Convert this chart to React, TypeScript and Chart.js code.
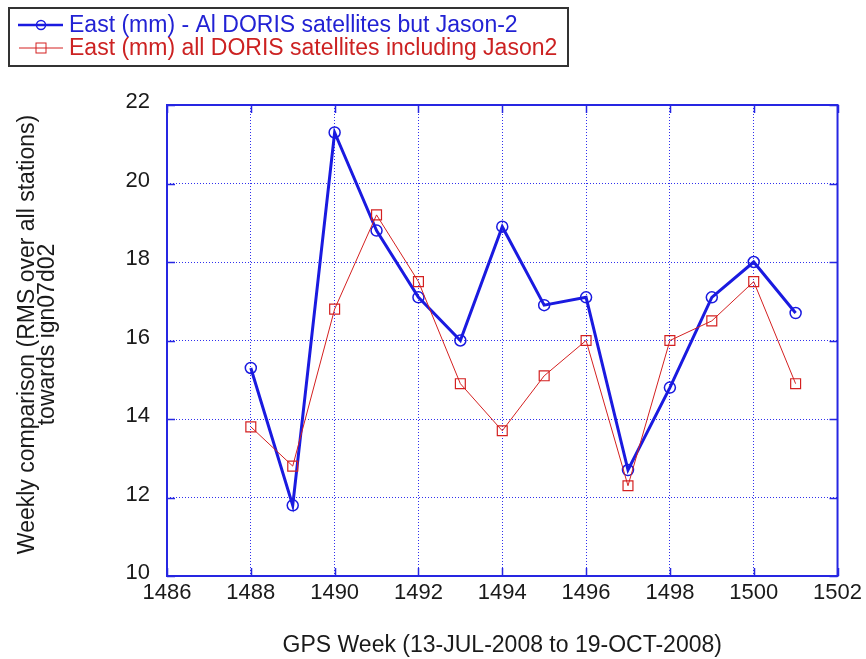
import React, { useEffect, useRef } from 'react';
import { Chart, registerables } from 'chart.js';

Chart.register(...registerables);

// ---- data ----
const weeks = [1488, 1489, 1490, 1491, 1492, 1493, 1494, 1495, 1496, 1497, 1498, 1499, 1500, 1501];
const eastWithoutJason2 = [15.3, 11.8, 21.3, 18.8, 17.1, 16.0, 18.9, 16.9, 17.1, 12.7, 14.8, 17.1, 18.0, 16.7];
const eastWithJason2 = [13.8, 12.8, 16.8, 19.2, 17.5, 14.9, 13.7, 15.1, 16.0, 12.3, 16.0, 16.5, 17.5, 14.9];
const xTicks = [1486, 1488, 1490, 1492, 1494, 1496, 1498, 1500, 1502];
const yTicks = [10, 12, 14, 16, 18, 20, 22];
const seriesLabels = [
  'East (mm) - Al DORIS satellites but Jason-2',
  'East (mm) all DORIS satellites including Jason2',
];
const xTitle = 'GPS Week (13-JUL-2008 to 19-OCT-2008)';
const yTitleLines = ['Weekly comparison (RMS over all stations)', 'towards ign07d02'];

// ---- styles ----
const FONT = '"Liberation Sans", Arial, Helvetica, sans-serif';
const BLUE = '#1a1ae0';
const BLUE_TEXT = '#2222d4';
const RED = '#d42020';
const RED_TEXT = '#cc2222';
const AXIS = '#2626e2';
const GRID = '#3030ee';
const TEXT = '#1a1a1a';

export default function App() {
  const ref = useRef<HTMLCanvasElement>(null);

  useEffect(() => {
    if (!ref.current) return;

    const decor = {
      id: 'matlabDecor',
      afterDraw(chart: any) {
        const { ctx, chartArea: a, scales } = chart;
        const x = scales.x;
        const y = scales.y;
        ctx.save();
        // inward ticks
        ctx.strokeStyle = AXIS;
        ctx.lineWidth = 1.5;
        ctx.setLineDash([]);
        ctx.beginPath();
        for (const v of xTicks) {
          const px = Math.round(x.getPixelForValue(v)) + 0.5;
          ctx.moveTo(px, a.bottom);
          ctx.lineTo(px, a.bottom - 8);
          ctx.moveTo(px, a.top);
          ctx.lineTo(px, a.top + 8);
        }
        for (const v of yTicks) {
          const py = Math.round(y.getPixelForValue(v)) + 0.5;
          ctx.moveTo(a.left, py);
          ctx.lineTo(a.left + 8, py);
          ctx.moveTo(a.right, py);
          ctx.lineTo(a.right - 8, py);
        }
        ctx.stroke();
        // frame
        ctx.lineWidth = 2;
        ctx.strokeRect(a.left, a.top, a.right - a.left, a.bottom - a.top);

        // y title (two rotated lines)
        ctx.fillStyle = TEXT;
        ctx.font = `23px ${FONT}`;
        ctx.textAlign = 'center';
        ctx.textBaseline = 'alphabetic';
        const cy = (a.top + a.bottom) / 2 - 6;
        const baseXs = [34, 54];
        yTitleLines.forEach((line, i) => {
          ctx.save();
          ctx.translate(baseXs[i], cy);
          ctx.rotate(-Math.PI / 2);
          ctx.fillText(line, 0, 0);
          ctx.restore();
        });

        // legend
        ctx.fillStyle = '#ffffff';
        ctx.fillRect(9, 8, 559, 58);
        ctx.strokeStyle = '#333333';
        ctx.lineWidth = 2;
        ctx.strokeRect(9, 8, 559, 58);

        // row 1
        ctx.strokeStyle = BLUE;
        ctx.lineWidth = 2.5;
        ctx.beginPath();
        ctx.moveTo(18, 25);
        ctx.lineTo(63, 25);
        ctx.stroke();
        ctx.lineWidth = 1.5;
        ctx.beginPath();
        ctx.arc(41, 25, 4.5, 0, Math.PI * 2);
        ctx.stroke();
        // row 2
        ctx.strokeStyle = RED;
        ctx.lineWidth = 1;
        ctx.beginPath();
        ctx.moveTo(19, 48);
        ctx.lineTo(63, 48);
        ctx.stroke();
        ctx.strokeRect(36, 43, 10, 10);

        ctx.font = `23px ${FONT}`;
        ctx.textAlign = 'left';
        ctx.textBaseline = 'alphabetic';
        ctx.fillStyle = BLUE_TEXT;
        ctx.fillText(seriesLabels[0], 69, 32);
        ctx.fillStyle = RED_TEXT;
        ctx.fillText(seriesLabels[1], 69, 55);
        ctx.restore();
      },
    };

    const chart = new Chart(ref.current, {
      type: 'line',
      data: {
        datasets: [
          {
            label: seriesLabels[0],
            data: weeks.map((w, i) => ({ x: w, y: eastWithoutJason2[i] })),
            borderColor: BLUE,
            borderWidth: 3,
            pointStyle: 'circle',
            pointRadius: 5.5,
            pointBorderWidth: 1.5,
            pointBorderColor: BLUE,
            pointBackgroundColor: 'rgba(0,0,0,0)',
            tension: 0,
            fill: false,
            order: 1,
          },
          {
            label: seriesLabels[1],
            data: weeks.map((w, i) => ({ x: w, y: eastWithJason2[i] })),
            borderColor: RED,
            borderWidth: 1,
            pointStyle: 'rect',
            pointRadius: 7,
            pointBorderWidth: 1.2,
            pointBorderColor: RED,
            pointBackgroundColor: 'rgba(0,0,0,0)',
            tension: 0,
            fill: false,
            order: 0,
          },
        ],
      },
      options: {
        responsive: false,
        animation: false,
        devicePixelRatio: 1,
        layout: { padding: { left: 0, top: 105, right: 28, bottom: 0 } },
        plugins: {
          legend: { display: false },
          tooltip: { enabled: false },
          title: { display: false },
        },
        scales: {
          x: {
            type: 'linear',
            min: 1486,
            max: 1502,
            afterBuildTicks: (s: any) => {
              s.ticks = xTicks.map((v) => ({ value: v }));
            },
            afterFit: (s: any) => {
              s.height = 83;
            },
            ticks: {
              color: TEXT,
              font: { family: FONT, size: 22 },
              padding: 4,
              maxRotation: 0,
              autoSkip: false,
              callback: (v: any) => String(v),
            },
            grid: { color: GRID, lineWidth: 1, drawTicks: false },
            border: { display: false, dash: [1, 2] },
            title: {
              display: true,
              text: xTitle,
              color: TEXT,
              font: { family: FONT, size: 23 },
              padding: { top: 0, bottom: 0 },
            },
          },
          y: {
            type: 'linear',
            min: 10,
            max: 22,
            afterBuildTicks: (s: any) => {
              s.ticks = yTicks.map((v) => ({ value: v }));
            },
            afterFit: (s: any) => {
              s.width = 167;
            },
            ticks: {
              color: TEXT,
              font: { family: FONT, size: 22 },
              padding: 17,
              labelOffset: -3,
              autoSkip: false,
              callback: (v: any) => String(v),
            },
            grid: { color: GRID, lineWidth: 1, drawTicks: false },
            border: { display: false, dash: [1, 2] },
          },
        },
      },
      plugins: [decor],
    });

    return () => chart.destroy();
  }, []);

  return (
    <div style={{ position: 'fixed', left: 0, top: 0, width: 866, height: 659, background: '#ffffff' }}>
      <canvas ref={ref} width={866} height={659} style={{ display: 'block', width: 866, height: 659 }} />
    </div>
  );
}
